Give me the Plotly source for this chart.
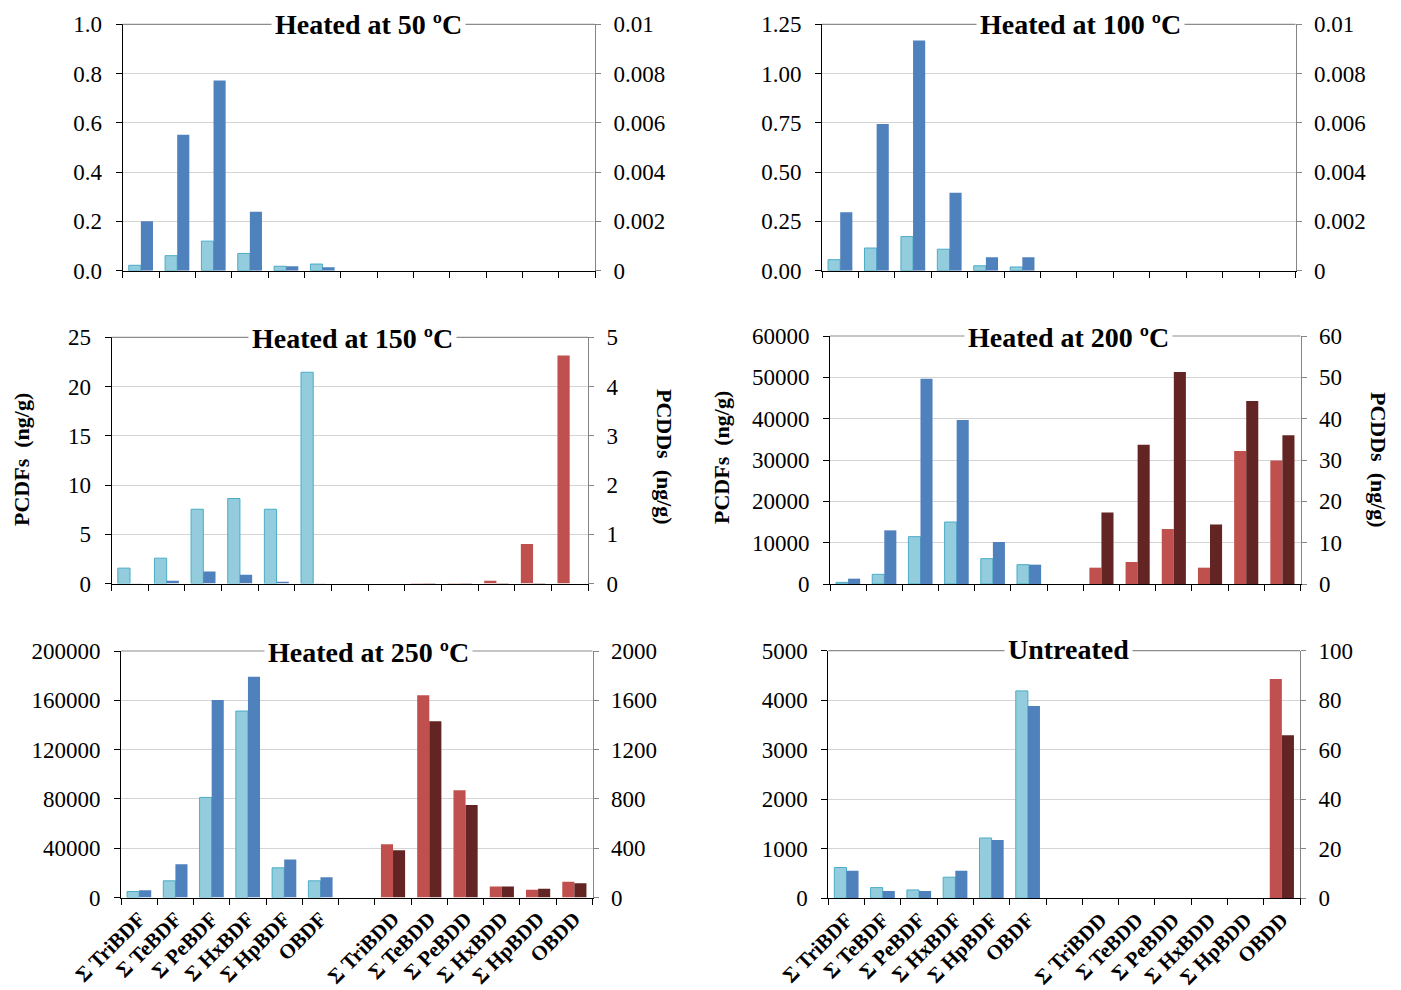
import plotly.graph_objects as go

# ---------------- data ----------------
categories = ["Σ TriBDF", "Σ TeBDF", "Σ PeBDF", "Σ HxBDF", "Σ HpBDF", "OBDF", " ",
              "Σ TriBDD", "Σ TeBDD", "Σ PeBDD", "Σ HxBDD", "Σ HpBDD", "OBDD"]
furan_categories = categories[:6]
dioxin_categories = categories[7:]

panel_titles = ["Heated at 50 ºC", "Heated at 100 ºC", "Heated at 150 ºC",
                "Heated at 200 ºC", "Heated at 250 ºC", "Untreated"]

# PCDFs (left axis), two series per panel
pcdf_a_50 = [0.022, 0.061, 0.12, 0.070, 0.018, 0.027]
pcdf_b_50 = [0.201, 0.552, 0.772, 0.239, 0.018, 0.014]
pcdf_a_100 = [0.056, 0.115, 0.173, 0.109, 0.025, 0.019]
pcdf_b_100 = [0.296, 0.744, 1.168, 0.396, 0.068, 0.068]
pcdf_a_150 = [1.56, 2.57, 7.54, 8.63, 7.54, 21.45]
pcdf_b_150 = [0.03, 0.27, 1.22, 0.88, 0.17, 0.03]
pcdf_a_200 = [400, 2340, 11450, 15000, 6130, 4680]
pcdf_b_200 = [1290, 12980, 49650, 39650, 10160, 4680]
pcdf_a_250 = [4870, 13530, 81180, 151270, 24080, 13530]
pcdf_b_250 = [5950, 27060, 160200, 179140, 30850, 16510]
pcdf_a_untr = [622, 216, 169, 426, 1218, 4188]
pcdf_b_untr = [555, 149, 149, 555, 1177, 3884]

# PCDDs (right axis), two series per panel
pcdd_a_50 = [0, 0, 0, 0, 0, 0]
pcdd_b_50 = [0, 0, 0, 0, 0, 0]
pcdd_a_100 = [0, 0, 0, 0, 0, 0]
pcdd_b_100 = [0, 0, 0, 0, 0, 0]
pcdd_a_150 = [0, 0.01, 0.01, 0.054, 0.80, 4.63]
pcdd_b_150 = [0, 0.01, 0.01, 0.01, 0.01, 0]
pcdd_a_200 = [3.95, 5.32, 13.3, 3.95, 32.2, 29.9]
pcdd_b_200 = [17.3, 33.7, 51.3, 14.4, 44.3, 36.0]
pcdd_a_250 = [433, 1640, 871, 89, 62, 127]
pcdd_b_250 = [384, 1431, 750, 89, 70, 116]
pcdd_a_untr = [0, 0, 0, 0, 0, 88.6]
pcdd_b_untr = [0, 0, 0, 0, 0, 65.9]

left_title = "PCDFs  (ng/g)"
right_title = "PCDDs  (ng/g)"

# ---------------- styling / layout ----------------
W, H = 1401, 990
FONT = "Liberation Serif"
C_LIGHT_BLUE, C_LIGHT_BLUE_EDGE = "#93CDDD", "#4BACC6"
C_DARK_BLUE = "#4F81BD"
C_RED = "#C0504D"
C_DARK_RED = "#632523"


def fx(page_x):
    return page_x / W


def fy(page_y):
    return 1 - page_y / H


panels = [
    dict(fa=pcdf_a_50, fb=pcdf_b_50, da=pcdd_a_50, db=pcdd_b_50,
         lrange=[0, 1.0], ldtick=0.2, lfmt=".1f", rrange=[0, 0.01], rdtick=0.002,
         px=(122.7, 595), py=(24.3, 270.7), tx=368, ty=24, labels=False, ytitles=False),
    dict(fa=pcdf_a_100, fb=pcdf_b_100, da=pcdd_a_100, db=pcdd_b_100,
         lrange=[0, 1.25], ldtick=0.25, lfmt=".2f", rrange=[0, 0.01], rdtick=0.002,
         px=(822, 1295.5), py=(24.3, 270.7), tx=1080, ty=24, labels=False, ytitles=False),
    dict(fa=pcdf_a_150, fb=pcdf_b_150, da=pcdd_a_150, db=pcdd_b_150,
         lrange=[0, 25], ldtick=5, lfmt="d", rrange=[0, 5], rdtick=1,
         px=(111.7, 588), py=(337.3, 583.5), tx=352, ty=338, labels=False, ytitles=True,
         ytx=(21, 665), yty=(460, 457)),
    dict(fa=pcdf_a_200, fb=pcdf_b_200, da=pcdd_a_200, db=pcdd_b_200,
         lrange=[0, 60000], ldtick=10000, lfmt="d", rrange=[0, 60], rdtick=10,
         px=(830, 1300.5), py=(336, 584), tx=1068, ty=337, labels=False, ytitles=True,
         ytx=(721, 1379), yty=(458, 460)),
    dict(fa=pcdf_a_250, fb=pcdf_b_250, da=pcdd_a_250, db=pcdd_b_250,
         lrange=[0, 200000], ldtick=40000, lfmt="d", rrange=[0, 2000], rdtick=400,
         px=(121, 592.5), py=(651, 897.5), tx=368, ty=652, labels=True, ytitles=False),
    dict(fa=pcdf_a_untr, fb=pcdf_b_untr, da=pcdd_a_untr, db=pcdd_b_untr,
         lrange=[0, 5000], ldtick=1000, lfmt="d", rrange=[0, 100], rdtick=20,
         px=(828.3, 1300), py=(650.7, 898.3), tx=1068, ty=649, labels=True, ytitles=False),
]

furan_x = [categories.index(c) for c in furan_categories]
dioxin_x = [categories.index(c) for c in dioxin_categories]
all_x = list(range(len(categories)))

fig = go.Figure()
layout = dict(width=W, height=H, autosize=False, margin=dict(l=0, r=0, t=0, b=0, autoexpand=False),
              paper_bgcolor="white", plot_bgcolor="white", showlegend=False,
              barmode="overlay", font=dict(family=FONT, size=23, color="black"))
annotations = []
shapes = []

BW = 1 / 3
for i, (p, title) in enumerate(zip(panels, panel_titles)):
    n = i + 1
    xname = "x" if n == 1 else f"x{n}"
    yl_n, yr_n = 2 * n - 1, 2 * n
    yl = "y" if yl_n == 1 else f"y{yl_n}"
    yr = f"y{yr_n}"
    xkey = "xaxis" if n == 1 else f"xaxis{n}"
    ylkey = "yaxis" if yl_n == 1 else f"yaxis{yl_n}"
    yrkey = f"yaxis{yr_n}"

    xdom = [fx(p["px"][0]), fx(p["px"][1])]
    ydom = [fy(p["py"][1]), fy(p["py"][0])]

    # bars
    fig.add_trace(go.Bar(x=furan_x, y=p["fa"], xaxis=xname, yaxis=yl, width=BW, offset=-BW,
                         marker=dict(color=C_LIGHT_BLUE, line=dict(color=C_LIGHT_BLUE_EDGE, width=1))))
    fig.add_trace(go.Bar(x=furan_x, y=p["fb"], xaxis=xname, yaxis=yl, width=BW, offset=0,
                         marker=dict(color=C_DARK_BLUE, line=dict(width=0))))
    fig.add_trace(go.Bar(x=dioxin_x, y=p["da"], xaxis=xname, yaxis=yr, width=BW, offset=-BW,
                         marker=dict(color=C_RED, line=dict(width=0))))
    fig.add_trace(go.Bar(x=dioxin_x, y=p["db"], xaxis=xname, yaxis=yr, width=BW, offset=0,
                         marker=dict(color=C_DARK_RED, line=dict(width=0))))

    layout[xkey] = dict(
        domain=xdom, anchor=yl, range=[-0.5, len(categories) - 0.5], automargin=False,
        tickvals=all_x, ticktext=categories, ticks="", showticklabels=p["labels"],
        tickangle=-45, tickfont=dict(family=FONT, size=21, weight="bold"),
        showgrid=False, zeroline=False, showline=True, linecolor="black", linewidth=1,
        minor=dict(tickvals=[k - 0.5 for k in range(len(categories) + 1)], ticks="outside",
                   ticklen=6, tickcolor="black", tickwidth=1, showgrid=False),
        fixedrange=True,
    )
    layout[ylkey] = dict(
        domain=ydom, anchor=xname, range=p["lrange"], dtick=p["ldtick"], tick0=0,
        tickformat=p["lfmt"], ticks="outside", ticklen=6, tickcolor="black",
        ticklabelstandoff=9, automargin=False,
        showline=True, linecolor="black", linewidth=1,
        showgrid=True, gridcolor="#D4D4D4", gridwidth=1, zeroline=False,
        tickfont=dict(family=FONT, size=23),
    )
    layout[yrkey] = dict(
        overlaying=yl, anchor=xname, side="right", range=p["rrange"], dtick=p["rdtick"], tick0=0,
        ticks="outside", ticklen=5, tickcolor="#868686",
        ticklabelstandoff=8, automargin=False,
        showline=True, linecolor="#868686", linewidth=1,
        showgrid=False, zeroline=False, tickfont=dict(family=FONT, size=23),
    )

    # top border of the plot area
    shapes.append(dict(type="line", xref=f"{xname} domain", yref=f"{yl} domain",
                       x0=0, x1=1, y0=1, y1=1, line=dict(color="#8C8C8C", width=1.2), layer="above"))

    annotations.append(dict(text=title, x=fx(p["tx"]), y=fy(p["ty"]), xref="paper", yref="paper",
                            xanchor="center", yanchor="middle", showarrow=False, bgcolor="white",
                            borderpad=3, font=dict(family=FONT, size=28, weight="bold", color="black")))
    if p["ytitles"]:
        annotations.append(dict(text=left_title, x=fx(p["ytx"][0]), y=fy(p["yty"][0]),
                                xref="paper", yref="paper", xanchor="center", yanchor="middle",
                                showarrow=False, textangle=-90,
                                font=dict(family=FONT, size=22, weight="bold", color="black")))
        annotations.append(dict(text=right_title, x=fx(p["ytx"][1]), y=fy(p["yty"][1]),
                                xref="paper", yref="paper", xanchor="center", yanchor="middle",
                                showarrow=False, textangle=90,
                                font=dict(family=FONT, size=22, weight="bold", color="black")))

layout["annotations"] = annotations
layout["shapes"] = shapes
fig.update_layout(**layout)
# remove the browser's default page margin so the figure fills the window exactly
fig.write_html("out.html",
               config={"displayModeBar": False, "staticPlot": True},
               post_script="document.body.style.margin='0px';document.body.style.overflow='hidden';")
